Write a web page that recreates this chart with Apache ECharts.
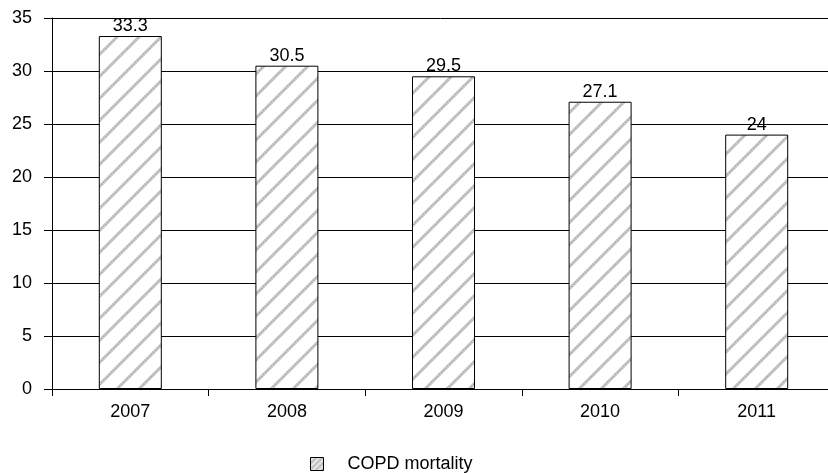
<!DOCTYPE html>
<html>
<head>
<meta charset="utf-8">
<script src="https://cdn.jsdelivr.net/npm/echarts@6/dist/echarts.min.js"></script>
<style>
  html, body { margin: 0; padding: 0; background: #fff; }
  #chart { width: 828px; height: 473px; }
</style>
</head>
<body>
<div id="chart"></div>
<script>
const years = ['2007', '2008', '2009', '2010', '2011'];
const mortality = [33.3, 30.5, 29.5, 27.1, 24];
const seriesName = 'COPD mortality';
const font = 'Liberation Sans';

// hatch fill: grey dotted 45deg stripes on white
const makeHatch = (p) => {
  let c = document.createElement('canvas');
  c.width = p; c.height = p;
  let ctx = c.getContext('2d');
  ctx.fillStyle = '#fff';
  ctx.fillRect(0, 0, p, p);
  const stripes = (color, width, dash) => {
    ctx.strokeStyle = color;
    ctx.lineWidth = width;
    ctx.setLineDash(dash);
    ctx.beginPath();
    for (let k = 0; k <= 2; k++) {
      ctx.moveTo(k * p + 6, -6);
      ctx.lineTo(k * p - p - 6, p + 6);
    }
    ctx.stroke();
  };
  stripes('#cdcdcd', 3.2, []);
  stripes('#a6a6a6', 1.4, [1.4, 1.4]);
  return c;
};
const hatch = { image: makeHatch(22), repeat: 'repeat' };
const hatchSmall = { image: makeHatch(6), repeat: 'repeat' };

let myChart = echarts.init(document.getElementById('chart'));
myChart.setOption({
  animation: false,
  grid: { left: 52, top: 18, width: 783, height: 371, outerBoundsMode: 'none', containLabel: false },
  legend: {
    data: [{ name: seriesName, itemStyle: { color: hatchSmall, borderColor: '#000', borderWidth: 1 } }],
    icon: 'rect',
    left: 305,
    top: 450,
    itemWidth: 13,
    itemHeight: 13,
    textStyle: { fontFamily: font, fontSize: 18, color: '#000', padding: [0, 0, 0, 19] }
  },
  xAxis: {
    type: 'category',
    data: years,
    axisLine: { lineStyle: { color: '#000', width: 1 } },
    axisTick: { show: true, length: 7, lineStyle: { color: '#000' } },
    axisLabel: { fontFamily: font, fontSize: 18, color: '#000', margin: 14 }
  },
  yAxis: {
    type: 'value',
    min: 0,
    max: 35,
    interval: 5,
    axisLine: { show: true, lineStyle: { color: '#000', width: 1 } },
    axisTick: { show: true, length: 8, lineStyle: { color: '#000' } },
    axisLabel: { fontFamily: font, fontSize: 18, color: '#000', margin: 20 },
    splitLine: { lineStyle: { color: '#000', width: 1 } }
  },
  series: [{
    name: seriesName,
    type: 'bar',
    data: mortality,
    barWidth: 63,
    itemStyle: { color: hatch, borderColor: '#000', borderWidth: 1 },
    label: {
      show: true,
      position: 'top',
      distance: 1,
      fontFamily: font,
      fontSize: 18,
      color: '#000'
    }
  }]
});
</script>
</body>
</html>
